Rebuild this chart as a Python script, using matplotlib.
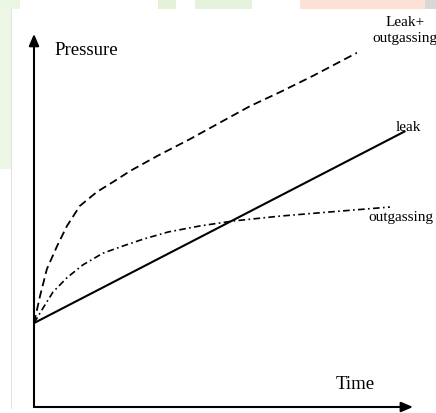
import matplotlib
matplotlib.use("Agg")
import matplotlib.pyplot as plt
from matplotlib.patches import Rectangle

# ---- data (time, pressure in arbitrary units) ----
leak_t = [0.0, 9.8]
leak_p = [2.22, 7.3]

total_t = [0.0, 0.16, 0.34, 0.61, 0.87, 1.21, 1.66, 2.08, 2.53, 3.25, 4.12, 4.99, 5.70, 6.49, 7.36, 8.52]
total_p = [2.22, 2.94, 3.65, 4.26, 4.79, 5.32, 5.69, 5.95, 6.24, 6.64, 7.09, 7.57, 7.96, 8.33, 8.76, 9.37]

outg_t = [0.0, 0.24, 0.50, 0.87, 1.29, 1.82, 2.35, 2.88, 3.54, 4.38, 5.25, 6.49, 7.81, 9.39]
outg_p = [2.22, 2.62, 3.04, 3.42, 3.76, 4.07, 4.26, 4.44, 4.63, 4.79, 4.92, 5.05, 5.16, 5.29]

labels = ["Leak+\noutgassing", "leak", "outgassing"]
axis_labels = ["Time", "Pressure"]

W, H = 436, 414
fig = plt.figure(figsize=(W / 100, H / 100), dpi=100)
fig.patch.set_facecolor("white")

def px_rect(x0, y0, x1, y1, color, z=0):
    r = Rectangle((x0 / W, 1 - y1 / H), (x1 - x0) / W, (y1 - y0) / H,
                  transform=fig.transFigure, facecolor=color, edgecolor="none", zorder=z)
    fig.add_artist(r)

# faint scan/watermark background
px_rect(0, 0, 12, 170, "#eef7e6")
px_rect(0, 0, 20, 10, "#eaf5e2")
px_rect(158, 0, 176, 10, "#e4f2da")
px_rect(195, 0, 252, 10, "#e6f3dc")
px_rect(300, 0, 425, 10, "#fde0d6")
px_rect(425, 0, 436, 10, "#d8d8d8")
px_rect(11, 10, 12, 410, "#e2e2e2")

ax = fig.add_axes([34 / W, 1 - 408 / H, (413 - 34) / W, (408 - 30) / H])
ax.set_xlim(0, 10)
ax.set_ylim(0, 10)
ax.axis("off")
ax.patch.set_alpha(0)

# axes with arrows
ax.annotate("", xy=(10.0, 0), xytext=(0, 0),
            arrowprops=dict(arrowstyle="-|>,head_length=0.7,head_width=0.3", color="black", lw=1.5,
                            shrinkA=0, shrinkB=0), annotation_clip=False)
ax.annotate("", xy=(0, 9.87), xytext=(0, 0),
            arrowprops=dict(arrowstyle="-|>,head_length=0.7,head_width=0.3", color="black", lw=1.5,
                            shrinkA=0, shrinkB=0), annotation_clip=False)

ax.plot(leak_t, leak_p, color="black", lw=1.5, solid_capstyle="butt", clip_on=False)
ax.plot(total_t, total_p, color="black", lw=1.3, linestyle=(0, (4.5, 2.5)), clip_on=False)
ax.plot(outg_t, outg_p, color="black", lw=1.2, linestyle=(0, (4, 2, 1, 2)), clip_on=False)

serif = ["Liberation Serif", "DejaVu Serif"]
ax.text(9.78, 10.0, labels[0], ha="center", va="center", fontsize=11, family=serif,
        linespacing=1.3, clip_on=False)
ax.text(9.87, 7.43, labels[1], ha="center", va="center", fontsize=11, family=serif, clip_on=False)
ax.text(9.68, 5.05, labels[2], ha="center", va="center", fontsize=11, family=serif, clip_on=False)
ax.text(0.55, 9.47, axis_labels[1], ha="left", va="center", fontsize=13.5, family=serif, clip_on=False)
ax.text(8.47, 0.61, axis_labels[0], ha="center", va="center", fontsize=13.5, family=serif, clip_on=False)

fig.savefig("out.png", dpi=100)
